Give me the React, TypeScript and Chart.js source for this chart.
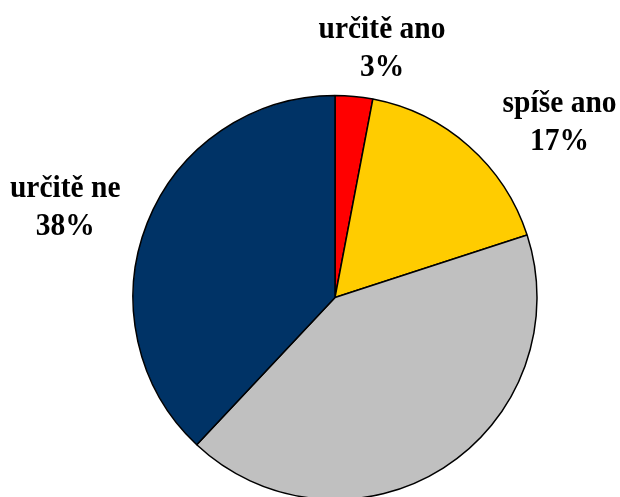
import React, { useEffect, useRef } from "react";
import { Chart, registerables } from "chart.js";

Chart.register(...registerables);

const categories = ["určitě ano", "spíše ano", "spíše ne", "určitě ne"];
const values = [3, 17, 42, 38];
const colors = ["#FF0000", "#FFCC00", "#C0C0C0", "#003366"];
const showLabel = [true, true, false, true];

// pixel nudges of each label's first baseline relative to the slice's outer mid point
const labelNudges: [number, number][] = [
  [28, -58],
  [91, -34],
  [0, 0],
  [-82, -26],
];

const labelPlugin = {
  id: "outsideLabels",
  afterDatasetsDraw(chart: any) {
    const ctx = chart.ctx;
    const meta = chart.getDatasetMeta(0);
    const total = values.reduce((a, b) => a + b, 0);
    const drawText = (t: string, x: number, y: number) => {
      ctx.save();
      ctx.translate(x, y);
      ctx.scale(1, 1.04);
      ctx.fillText(t, 0, 0);
      ctx.restore();
    };
    ctx.save();
    ctx.fillStyle = "#000";
    ctx.font = "bold 29.5px 'Liberation Serif', 'Times New Roman', serif";
    ctx.textAlign = "center";
    ctx.textBaseline = "alphabetic";
    meta.data.forEach((arc: any, i: number) => {
      if (!showLabel[i]) return;
      const p = arc.getProps(["x", "y", "startAngle", "endAngle", "outerRadius"], true);
      const a = (p.startAngle + p.endAngle) / 2;
      const ax = p.x + Math.cos(a) * p.outerRadius + labelNudges[i][0];
      const ay = p.y + Math.sin(a) * p.outerRadius + labelNudges[i][1];
      const pct = Math.round((values[i] / total) * 100) + "%";
      drawText(categories[i], ax, ay);
      drawText(pct, ax, ay + 38);
    });
    ctx.restore();
  },
};

export default function App() {
  const ref = useRef<HTMLCanvasElement>(null);
  useEffect(() => {
    const chart = new Chart(ref.current!, {
      type: "pie",
      data: {
        labels: categories,
        datasets: [
          {
            data: values,
            backgroundColor: colors,
            borderColor: "#000",
            borderWidth: 1.5,
            clip: false,
          } as any,
        ],
      },
      options: {
        animation: false,
        responsive: false,
        maintainAspectRatio: false,
        radius: 202,
        layout: { padding: { top: 98, bottom: 0, left: 132, right: 82 } },
        plugins: {
          legend: { display: false },
          tooltip: { enabled: false },
        },
      } as any,
      plugins: [labelPlugin],
    });
    return () => chart.destroy();
  }, []);
  return (
    <div style={{ position: "fixed", left: 0, top: 0, width: 620, height: 497, background: "#fff" }}>
      <canvas ref={ref} width={620} height={497} />
    </div>
  );
}
